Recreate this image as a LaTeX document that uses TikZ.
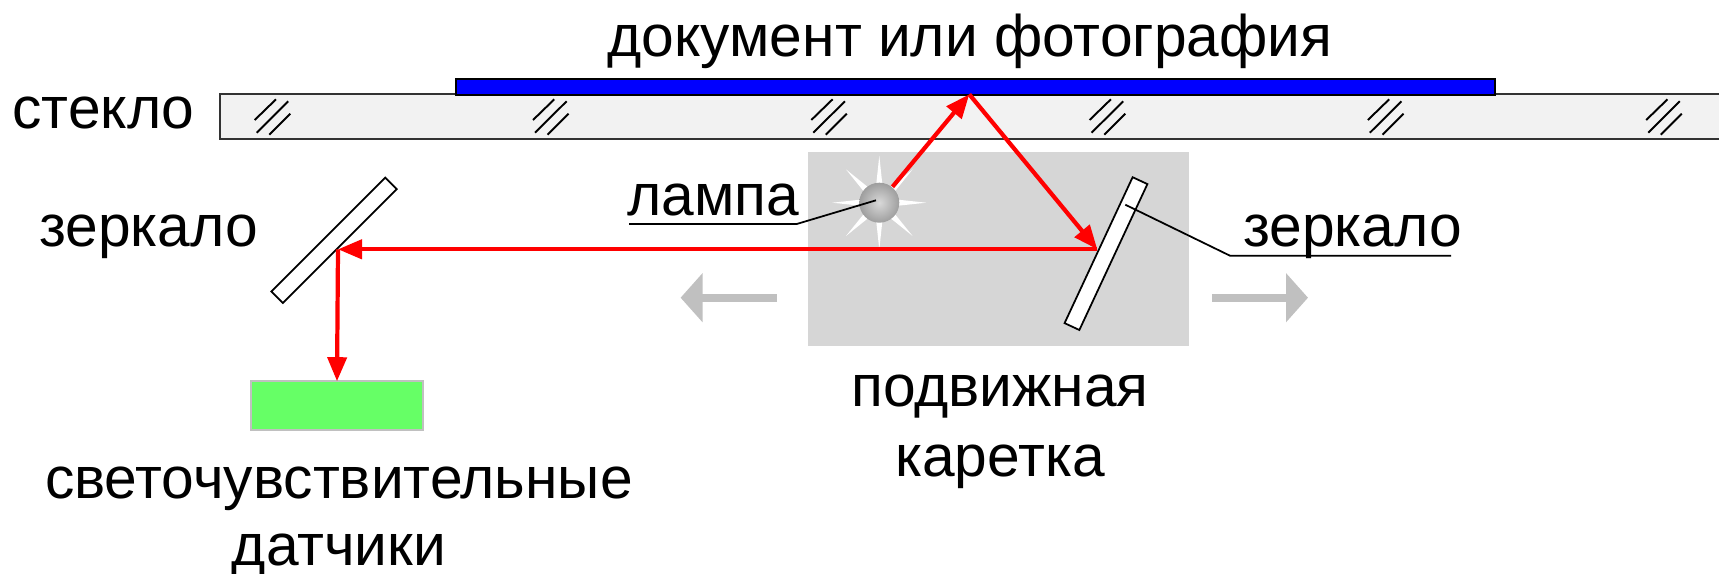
\documentclass[tikz,border=0pt]{standalone}
\usepackage{fontspec}
\setmainfont{Liberation Sans}
\usetikzlibrary{arrows.meta}
\definecolor{glassfill}{HTML}{F2F2F2}
\definecolor{carriagefill}{HTML}{D6D6D6}
\definecolor{arrowgray}{HTML}{C0C0C0}
\definecolor{sensorgreen}{HTML}{66FF66}
\tikzset{
	lbl/.style={font=\fontsize{16.7}{20}\selectfont,anchor=base,inner sep=0pt},
	mirrorbox/.style={draw=black,fill=white,line width=0.5pt,inner sep=0pt,minimum height=0.163cm},
	ray/.style={draw=red,line width=1.2pt,-{Triangle[length=0.24cm,width=0.19cm]}},
	moveArrow/.style={draw=arrowgray,line width=0.08cm,-{Triangle[length=0.22cm,width=0.48cm]}},
	leader/.style={draw=black,line width=0.5pt},
}
\begin{document}
\begin{tikzpicture}
		\useasboundingbox (0,0) rectangle (17.19,-5.74);

		% glass
		\draw [draw=black!80,fill=glassfill,line width=0.55pt] (2.20,-0.94) rectangle (17.40,-1.393);
		\foreach \i in {0,...,5}{
			\begin{scope}[xshift=\i*2.783cm]
				\draw [black,line width=0.55pt] (2.547,-1.20) -- (2.760,-0.993);
				\draw [black,line width=0.55pt] (2.567,-1.327) -- (2.883,-1.013);
				\draw [black,line width=0.55pt] (2.693,-1.347) -- (2.903,-1.137);
			\end{scope}
		}
		% document
		\draw [draw=black,fill=blue,line width=0.6pt] (4.557,-0.79) rectangle (14.95,-0.95);

		% carriage
		\fill [carriagefill] (8.08,-1.52) rectangle (11.89,-3.457);

		% lamp
		\begin{scope}[shift={(8.793,-2.027)}]
			\foreach \a in {0,45,...,315}{
				\fill [white] (\a:0.47) -- (\a+10:0.18) -- (\a-10:0.18) -- cycle;
			}
		\end{scope}
		\node [circle,inner sep=0pt,minimum size=0.40cm,inner color=black!15,outer color=black!38] (lamp) at (8.793,-2.027) {};

		% mirrors
		\node [mirrorbox,minimum width=1.61cm,rotate=45] (mirrorL) at (3.34,-2.403) {};
		\node [mirrorbox,minimum width=1.61cm,rotate=65] (mirrorR) at (11.06,-2.536) {};

		% sensor
		\node [draw=arrowgray,fill=sensorgreen,line width=0.5pt,inner sep=0pt,outer sep=0pt,minimum width=1.72cm,minimum height=0.486cm] (sensor) at (3.37,-4.055) {};

		% rays
		\coordinate (apex) at (9.693,-0.943);
		\coordinate (hitR) at (10.973,-2.493);
		\coordinate (hitL) at (3.38,-2.493);
		\draw [ray] (lamp) -- (apex);
		\draw [ray] (apex) -- (hitR);
		\draw [ray] (hitR) -- (hitL);
		\draw [ray] (hitL) -- (sensor.north);

		% carriage movement
		\coordinate (leftA) at (7.77,-2.977);
		\coordinate (leftB) at (6.806,-2.977);
		\coordinate (rightA) at (12.118,-2.977);
		\coordinate (rightB) at (13.08,-2.977);
		\draw [moveArrow] (leftA) -- (leftB);
		\draw [moveArrow] (rightA) -- (rightB);

		% labels
		\node [lbl] (doc) at (9.70,-0.56) {документ или фотография};
		\node [lbl] (glass) at (1.035,-1.28) {стекло};
		\node [lbl] (mirrorLtext) at (1.485,-2.46) {зеркало};
		\node [lbl] (lamptext) at (7.13,-2.15) {лампа};
		\node [lbl] (mirrorRtext) at (13.525,-2.46) {зеркало};
		\node [lbl] (carriage1) at (10.00,-4.06) {подвижная};
		\node [lbl] (carriage2) at (10.00,-4.76) {каретка};
		\node [lbl] (sensor1) at (3.39,-4.98) {светочувствительные};
		\node [lbl] (sensor2) at (3.39,-5.65) {датчики};

		% leaders
		\coordinate (lampA) at (6.29,-2.24);
		\coordinate (lampB) at (7.967,-2.24);
		\coordinate (lampC) at (8.76,-2.003);
		\draw [leader] (lampA) -- (lampB) -- (lampC);
		\coordinate (mirrA) at (14.51,-2.557);
		\coordinate (mirrB) at (12.30,-2.557);
		\coordinate (mirrC) at (11.253,-2.047);
		\draw [leader] (mirrA) -- (mirrB) -- (mirrC);
\end{tikzpicture}
\end{document}
